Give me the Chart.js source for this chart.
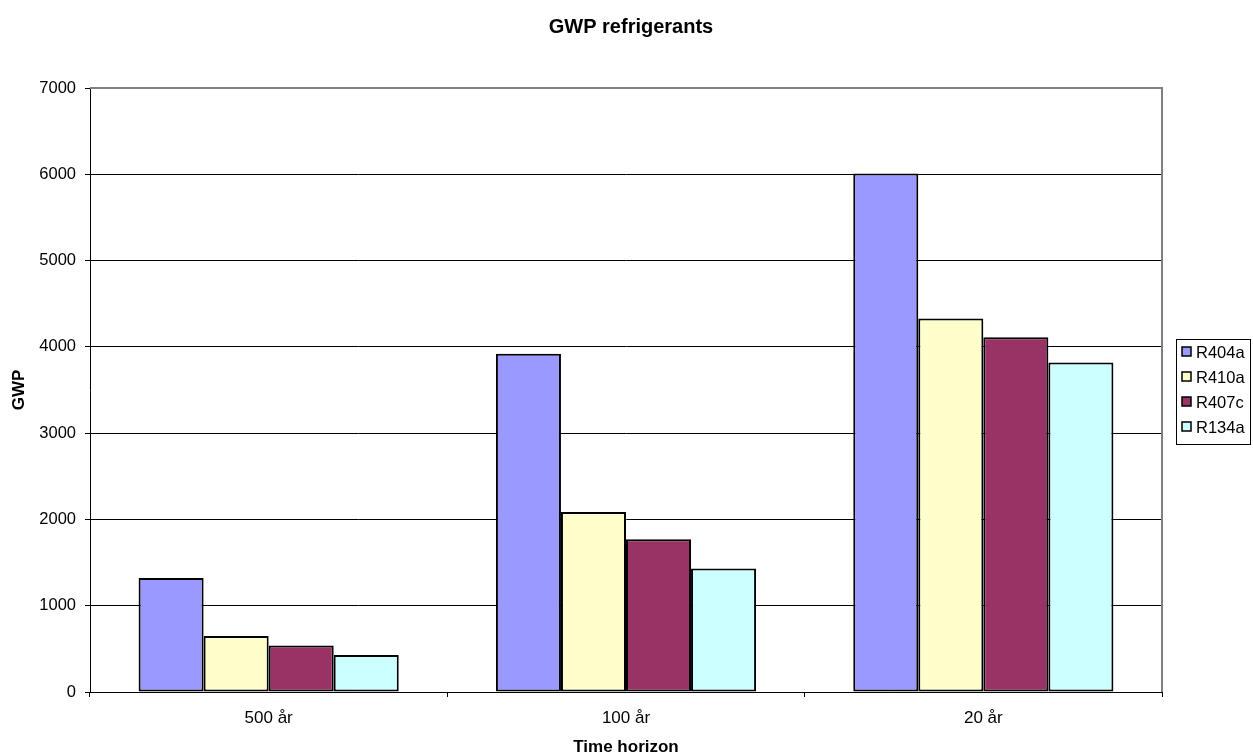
<!DOCTYPE html>
<html>
<head>
<meta charset="utf-8">
<title>GWP refrigerants</title>
<script src="https://cdn.jsdelivr.net/npm/chart.js@4/dist/chart.umd.min.js"></script>
<style>
  html, body { margin: 0; padding: 0; background: #fff; }
  #wrap { width: 1253px; height: 756px; }
</style>
</head>
<body>
<div id="wrap"><canvas id="chart" width="1253" height="756"></canvas></div>
<script>
// Time horizons on the x axis
const categories = ['500 år', '100 år', '20 år'];

// Global warming potential per refrigerant, per time horizon
const r404a = [1320, 3920, 6010];
const r410a = [650, 2085, 4330];
const r407c = [540, 1770, 4110];
const r134a = [430, 1430, 3820];

const seriesNames = ['R404a', 'R410a', 'R407c', 'R134a'];
const seriesColors = ['#9999FF', '#FFFFCC', '#993366', '#CCFFFF'];
const chartTitle = 'GWP refrigerants';

const FONT = "'Liberation Sans', Arial, sans-serif";

// Gray frame on the top and right of the plot area
const plotFrame = {
  id: 'plotFrame',
  beforeDatasetsDraw(chart) {
    const { ctx, chartArea: a } = chart;
    ctx.save();
    ctx.strokeStyle = '#808080';
    ctx.lineWidth = 2;
    ctx.beginPath();
    ctx.moveTo(a.left, a.top);
    ctx.lineTo(a.right, a.top);
    ctx.lineTo(a.right, a.bottom);
    ctx.stroke();
    ctx.restore();
  }
};

// Title centred over the whole canvas
const canvasTitle = {
  id: 'canvasTitle',
  afterDraw(chart) {
    const { ctx } = chart;
    ctx.save();
    ctx.font = 'bold 20px ' + FONT;
    ctx.fillStyle = '#000';
    ctx.textAlign = 'center';
    ctx.textBaseline = 'middle';
    ctx.fillText(chartTitle, 631, 27);
    ctx.restore();
  }
};

// Boxed legend to the right of the plot
const boxLegend = {
  id: 'boxLegend',
  afterDraw(chart) {
    const { ctx } = chart;
    const x0 = 1176, y0 = 339, w = 74, h = 105;
    ctx.save();
    ctx.fillStyle = '#fff';
    ctx.fillRect(x0, y0, w, h);
    ctx.strokeStyle = '#000';
    ctx.lineWidth = 1;
    ctx.strokeRect(x0 + 0.5, y0 + 0.5, w, h);
    ctx.font = '16.5px ' + FONT;
    ctx.textBaseline = 'middle';
    ctx.textAlign = 'left';
    chart.data.datasets.forEach((ds, i) => {
      const cy = 352 + i * 25;
      ctx.fillStyle = ds.backgroundColor;
      ctx.fillRect(1182, cy - 5, 9, 9);
      ctx.strokeStyle = '#000';
      ctx.lineWidth = 1.5;
      ctx.strokeRect(1182, cy - 5, 9, 9);
      ctx.fillStyle = '#000';
      ctx.fillText(ds.label, 1196, cy + 1);
    });
    ctx.restore();
  }
};

const values = [r404a, r410a, r407c, r134a];

new Chart(document.getElementById('chart'), {
  type: 'bar',
  data: {
    labels: categories,
    datasets: seriesNames.map((name, i) => ({
      label: name,
      data: values[i],
      backgroundColor: seriesColors[i],
      borderColor: '#000',
      borderWidth: 2,
      borderSkipped: false,
      categoryPercentage: 0.728,
      barPercentage: 1
    }))
  },
  options: {
    responsive: false,
    animation: false,
    devicePixelRatio: 1,
    layout: { padding: { left: 0, right: 91, top: 88, bottom: 0 } },
    plugins: {
      legend: { display: false },
      tooltip: { enabled: false },
      title: { display: false }
    },
    scales: {
      x: {
        offset: true,
        afterFit(scale) { scale.height = 64; },
        grid: {
          display: true,
          offset: true,
          drawOnChartArea: false,
          drawTicks: true,
          tickLength: 5,
          color: '#000',
          tickColor: '#000'
        },
        border: { display: true, color: '#000', width: 1 },
        ticks: {
          color: '#000',
          padding: 11,
          font: { family: FONT, size: 17 }
        },
        title: {
          display: true,
          text: 'Time horizon',
          color: '#000',
          font: { family: FONT, size: 17, weight: 'bold', lineHeight: 1 },
          padding: { top: 0, bottom: 0 }
        }
      },
      y: {
        min: 0,
        max: 7000,
        afterFit(scale) { scale.width = 90; },
        grid: {
          color: (c) => (c.tick && c.tick.value === 7000) ? 'rgba(0,0,0,0)' : '#000',
          tickColor: '#000',
          lineWidth: 1,
          tickLength: 5
        },
        border: { display: true, color: '#000', width: 1 },
        ticks: {
          stepSize: 1000,
          color: '#000',
          padding: 9,
          font: { family: FONT, size: 16.5 },
          callback: (v) => String(v)
        },
        title: {
          display: true,
          text: 'GWP',
          color: '#000',
          font: { family: FONT, size: 17, weight: 'bold', lineHeight: 1 },
          padding: { top: 11, bottom: 0 }
        }
      }
    }
  },
  plugins: [plotFrame, canvasTitle, boxLegend]
});
</script>
</body>
</html>
